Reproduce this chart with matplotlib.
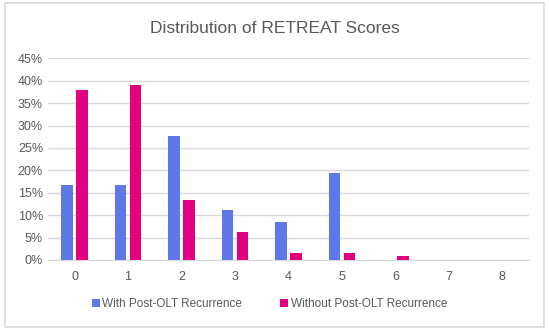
import matplotlib.pyplot as plt
import numpy as np
from matplotlib.patches import Rectangle

scores = ['0', '1', '2', '3', '4', '5', '6', '7', '8']
with_rec = [16.7, 16.7, 27.7, 11.1, 8.4, 19.4, 0, 0, 0]
without_rec = [37.9, 39.1, 13.4, 6.2, 1.6, 1.6, 0.8, 0, 0]
yticks = [0, 5, 10, 15, 20, 25, 30, 35, 40, 45]

blue = '#5F78E8'
pink = '#E2007F'
grey = '#595959'

plt.rcParams['font.family'] = ['Liberation Sans Narrow', 'Liberation Sans', 'DejaVu Sans']

fig = plt.figure(figsize=(5.5, 3.34), dpi=100)
fig.patches.append(Rectangle((0.009, 0.02), 0.98, 0.97, transform=fig.transFigure,
                             fill=False, edgecolor='#D9D9D9', lw=1.2))

ax = fig.add_axes([0.087, 0.2216, 0.875, 0.6038])
x = np.arange(len(scores))
w = 0.21
ax.bar(x - 0.14, with_rec, w, color=blue, label='With Post-OLT Recurrence', zorder=3)
ax.bar(x + 0.14, without_rec, w, color=pink, label='Without Post-OLT Recurrence', zorder=3)

ax.set_xlim(-0.5, len(scores) - 0.5)
ax.set_ylim(0, 45)
ax.set_yticks(yticks)
ax.set_yticklabels(['%d%%' % v for v in yticks])
ax.set_xticks(x)
ax.set_xticklabels(scores)
ax.yaxis.grid(True, color='#D9D9D9', lw=1, zorder=0)
for s in ax.spines.values():
    s.set_visible(False)
ax.spines['bottom'].set_visible(True)
ax.spines['bottom'].set_color('#D9D9D9')
ax.tick_params(length=0, colors=grey, labelsize=9)
ax.tick_params(axis='x', pad=8)

fig.text(0.5, 0.915, 'Distribution of RETREAT Scores', ha='center', va='center',
         fontsize=12.5, color=grey)

fig.legend(loc='center', bbox_to_anchor=(0.49, 0.09), ncol=2, frameon=False,
           fontsize=8.5, handlelength=0.7, handleheight=0.7, handletextpad=0.2,
           columnspacing=3.2, labelcolor=grey)

fig.savefig('out.png', dpi=100)
